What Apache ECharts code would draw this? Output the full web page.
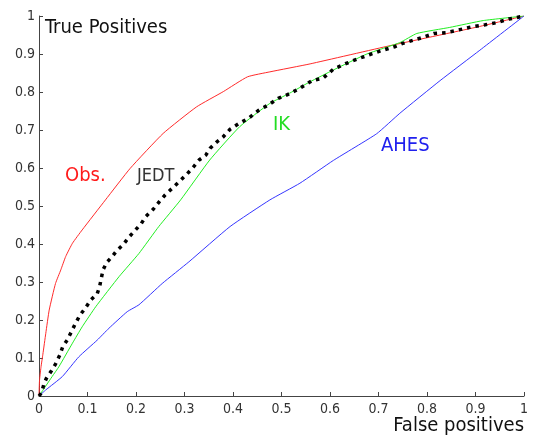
<!DOCTYPE html>
<html>
<head>
<meta charset="utf-8">
<script src="https://cdn.jsdelivr.net/npm/echarts@6/dist/echarts.min.js"></script>
<style>
html,body{margin:0;padding:0;background:#fff;}
#chart{width:535px;height:439px;}
</style>
</head>
<body>
<div id="chart"></div>
<script>
//坐标刻度
var xTicks = [0, 0.1, 0.2, 0.3, 0.4, 0.5, 0.6, 0.7, 0.8, 0.9, 1];
var yTicks = [0, 0.1, 0.2, 0.3, 0.4, 0.5, 0.6, 0.7, 0.8, 0.9, 1];
//各曲线 [假阳性, 真阳性]
var obsData = [[0,0],[0.001,0.04],[0.004,0.075],[0.008,0.11],[0.014,0.165],[0.021,0.226],[0.034,0.296],[0.045,0.332],[0.055,0.367],[0.069,0.402],[0.089,0.437],[0.137,0.516],[0.188,0.599],[0.256,0.691],[0.325,0.761],[0.38,0.801],[0.43,0.84],[0.476,0.853],[0.559,0.874],[0.724,0.922],[0.9,0.97],[1,1]];
var ikData = [[0,0],[0.027,0.051],[0.041,0.077],[0.069,0.139],[0.089,0.182],[0.117,0.235],[0.165,0.314],[0.206,0.375],[0.247,0.446],[0.292,0.516],[0.352,0.621],[0.414,0.709],[0.476,0.77],[0.517,0.797],[0.559,0.827],[0.607,0.858],[0.676,0.9],[0.744,0.93],[0.779,0.954],[0.847,0.97],[0.916,0.988],[1,1]];
var ahesData = [[0,0],[0.014,0.016],[0.048,0.051],[0.082,0.103],[0.12,0.147],[0.144,0.178],[0.182,0.222],[0.206,0.24],[0.254,0.296],[0.309,0.353],[0.394,0.446],[0.476,0.516],[0.538,0.56],[0.607,0.62],[0.696,0.69],[0.744,0.744],[0.827,0.83],[0.909,0.91],[1,1]];
var jedtData = [[0,0],[0.0055,0.009],[0.0096,0.029],[0.015,0.046],[0.025,0.065],[0.034,0.084],[0.043,0.108],[0.049,0.13],[0.058,0.147],[0.066,0.167],[0.074,0.188],[0.084,0.212],[0.096,0.232],[0.107,0.253],[0.12,0.269],[0.125,0.288],[0.132,0.332],[0.14,0.352],[0.151,0.367],[0.16,0.382],[0.174,0.399],[0.186,0.419],[0.199,0.437],[0.211,0.454],[0.22,0.472],[0.236,0.492],[0.249,0.513],[0.26,0.529],[0.275,0.547],[0.289,0.564],[0.305,0.584],[0.318,0.602],[0.33,0.621],[0.344,0.634],[0.353,0.652],[0.365,0.667],[0.379,0.681],[0.394,0.702],[0.411,0.716],[0.432,0.731],[0.452,0.751],[0.473,0.766],[0.493,0.783],[0.516,0.795],[0.538,0.81],[0.563,0.83],[0.585,0.836],[0.607,0.86],[0.633,0.875],[0.655,0.886],[0.681,0.898],[0.706,0.909],[0.733,0.919],[0.75,0.928],[0.774,0.937],[0.79,0.943],[0.814,0.954],[0.839,0.956],[0.861,0.962],[0.894,0.972],[0.92,0.977],[0.942,0.982],[0.969,0.992],[1,1]];

var font = "'DejaVu Sans Condensed', 'DejaVu Sans'";
var chart = echarts.init(document.getElementById('chart'));
function makeAxis(ticks, margin) {
    return {
        type: 'value',
        min: ticks[0],
        max: ticks[ticks.length - 1],
        interval: 0.1,
        splitLine: {show: false},
        axisLine: {show: true, lineStyle: {color: '#444', width: 1}},
        axisTick: {show: true, inside: true, length: 4, lineStyle: {color: '#444'}},
        axisLabel: {color: '#333', fontFamily: font, fontSize: 14, margin: margin,
            formatter: function (v) { return String(Math.round(v * 10) / 10); }}
    };
}
function label(txt, x, y, size, color, align) {
    return {type: 'text', x: x, y: y,
        style: {text: txt, fontFamily: font, fontSize: size, fill: color,
            align: align || 'left', verticalAlign: 'middle'}};
}
//实线曲线
function curve(name, data, color) {
    return {name: name, type: 'line', data: data, showSymbol: false,
        smooth: 0.15,
        lineStyle: {color: color, width: 1}};
}
var option = {
    animation: false,
    backgroundColor: '#fff',
    grid: {left: 39, right: 11, top: 16, bottom: 43},
    xAxis: makeAxis(xTicks, 6),
    yAxis: makeAxis(yTicks, 4),
    series: [
        curve('Obs.', obsData, '#ff2a2a'),
        curve('IK', ikData, '#22ee22'),
        curve('AHES', ahesData, '#3535ff'),
        {name: 'JEDT', type: 'line', data: jedtData, showSymbol: false,
            lineStyle: {color: '#000', width: 3.5, type: [3.5, 5], cap: 'butt'}}
    ],
    graphic: [
        label('True Positives', 45, 28, 20, '#111'),
        label('False positives', 524, 426, 20, '#111', 'right'),
        label('Obs.', 65, 176, 20, '#ff1a1a'),
        label('JEDT', 137, 176, 18, '#333'),
        label('IK', 273, 125, 20, '#22dd22'),
        label('AHES', 381, 146, 20, '#2020ee')
    ]
};
chart.setOption(option);
</script>
</body>
</html>
